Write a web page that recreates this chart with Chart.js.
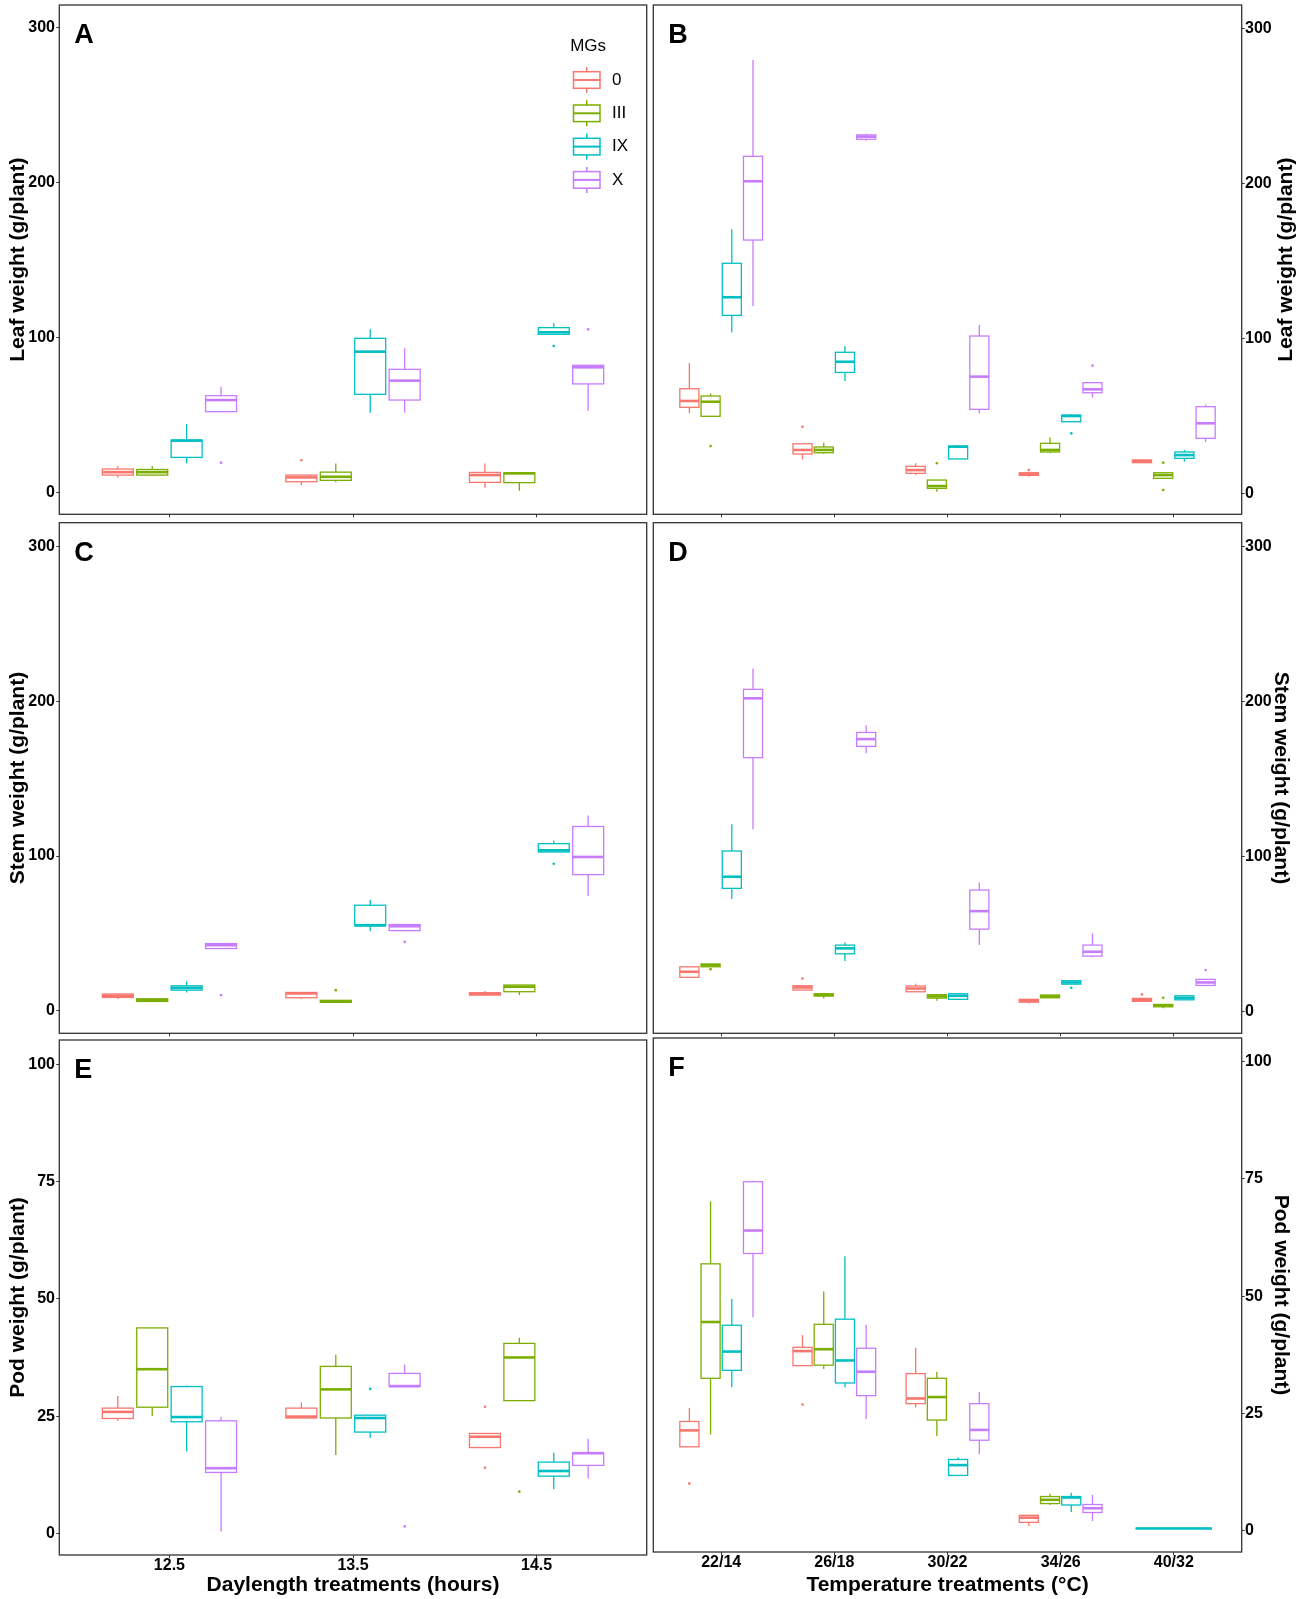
<!DOCTYPE html>
<html>
<head>
<meta charset="utf-8">
<script src="https://cdn.jsdelivr.net/npm/chart.js@4.4.1/dist/chart.umd.min.js"></script>
<style>
  body { margin: 0; background: #fff; width: 1299px; height: 1599px; position: relative; overflow: hidden; }
  canvas { position: absolute; }
</style>
</head>
<body>
<canvas id="pA"></canvas>
<canvas id="pB"></canvas>
<canvas id="pC"></canvas>
<canvas id="pD"></canvas>
<canvas id="pE"></canvas>
<canvas id="pF"></canvas>
<script>
// --- categories & ticks ---
const mgs = ['0', 'III', 'IX', 'X'];
const mgColors = ['#F8766D', '#7CAE00', '#00BFC4', '#C77CFF'];
const daylength = ['12.5', '13.5', '14.5'];
const temperature = ['22/14', '26/18', '30/22', '34/26', '40/32'];
const weightTicks = [0, 100, 200, 300];
const podTicks = [0, 25, 50, 75, 100];

// --- box stats: one row per MG, one entry per treatment: [low whisker, q1, median, q3, high whisker]
const leafDay = [
  [[9.9, 11.4, 13.3, 15.3, 17.2], [4.9, 7.1, 9.9, 11.4, 11.4], [3.2, 6.7, 11.4, 13.1, 18.9]],
  [[11, 11.4, 13.3, 15, 17.2], [6.7, 8, 10.3, 13.3, 18.9], [1.3, 6.5, 12.5, 12.9, 12.9]],
  [[18.9, 22.8, 33.6, 34, 44.3], [51.6, 63.5, 91, 99.6, 105.4], [102.2, 102.2, 103.5, 106.5, 109.3]],
  [[52.3, 52.3, 59.8, 62.6, 68.4], [51.6, 59.8, 72.3, 79.6, 93.2], [52.9, 70.2, 80.9, 82.2, 82.2]]
];
// outliers: [treatment index, MG index, value]
const leafDayOut = [[0, 3, 19.4], [1, 0, 21], [2, 2, 94.7], [2, 3, 105.4]];

const leafTemp = [
  [[51.6, 55.5, 59.6, 67.5, 83.9], [21.9, 25.4, 28, 32, 32], [11.8, 12.9, 15, 17.4, 19.4], [10.8, 11.6, 12.5, 13.3, 13.3], [19.6, 19.8, 20.9, 21.5, 21.5]],
  [[49.7, 49.7, 59.1, 62.8, 64.5], [25.4, 26.2, 28, 29.9, 32.7], [1.1, 3.2, 4.7, 8.6, 8.6], [25.8, 26.7, 28, 32.3, 36.1], [9.7, 9.7, 11.8, 13.3, 13.3]],
  [[103.7, 114.8, 126.5, 148.4, 170.3], [72.5, 78, 84.9, 91, 95], [22.2, 22.2, 30.1, 30.5, 30.5], [46.2, 46.2, 49.9, 50.5, 51], [20.4, 22.6, 24.7, 26.7, 28]],
  [[120.9, 163.4, 201.3, 217.4, 279.6], [227.5, 228.4, 230.1, 231.2, 232], [51.6, 54.2, 75.3, 101.5, 108.6], [61.9, 64.9, 67.1, 71.4, 71.4], [33.3, 35.5, 45.2, 55.9, 57.4]]
];
const leafTempOut = [[0, 1, 30.5], [1, 0, 43], [2, 1, 19.4], [3, 0, 15], [3, 2, 38.7], [3, 3, 82.4], [4, 1, 19.8], [4, 1, 2.2]];

const stemDay = [
  [[7.5, 8.6, 9.7, 10.8, 10.8], [7.5, 8.4, 11.2, 11.8, 11.8], [9.7, 10.1, 11, 11.6, 12.7]],
  [[5.6, 6, 6.9, 7.7, 7.7], [5.4, 5.4, 6, 6.7, 6.7], [10.1, 12.3, 15.5, 16.6, 16.6]],
  [[11.8, 13.3, 14.8, 16.1, 19.1], [51.4, 54.8, 55.3, 68.2, 71.8], [102.6, 102.6, 103.7, 108, 110.1]],
  [[40.2, 40.2, 42.4, 43.4, 43.4], [51.8, 51.8, 54.6, 55.7, 55.7], [74.2, 88, 99.4, 119.1, 126.2]]
];
const stemDayOut = [[0, 3, 10.1], [1, 1, 13.3], [1, 3, 44.5], [2, 2, 95]];

const stemTemp = [
  [[22.2, 22.2, 25.8, 29, 29], [14, 14, 15.7, 16.8, 16.8], [12.9, 12.9, 15, 16.6, 18.1], [5.4, 6.2, 7.1, 8, 8], [6.7, 6.7, 7.7, 8.6, 8.6]],
  [[29, 29, 30.1, 30.8, 30.8], [8.6, 10.1, 11, 11.6, 11.6], [7.1, 8.8, 9.9, 11, 11], [9, 9, 9.9, 10.8, 10.8], [2.2, 3.2, 4.1, 4.7, 4.7]],
  [[72.7, 79.6, 87.1, 103.7, 120.9], [32.7, 37.4, 40.9, 43, 44.7], [8, 8, 10.3, 11.6, 11.6], [17.8, 17.8, 18.9, 20, 20], [7.7, 7.7, 9, 10.3, 10.3]],
  [[117.8, 163.9, 202.2, 208, 221.5], [166.7, 171.2, 175.9, 180.2, 184.9], [43, 53.3, 64.9, 78.5, 83.4], [35.1, 35.9, 38.7, 43, 50.5], [17, 17, 18.9, 20.9, 20.9]]
];
const stemTempOut = [[0, 1, 27.5], [1, 0, 21.5], [3, 2, 15.5], [4, 0, 11.2], [4, 1, 9], [4, 3, 26.9]];

const podDay = [
  [[24, 24.5, 25.9, 26.7, 29.3], [24.6, 24.6, 24.9, 26.7, 27.9], [18.3, 18.3, 20.6, 21.3, 21.3]],
  [[25, 26.9, 35, 43.8, 43.8], [16.7, 24.6, 30.7, 35.6, 38.1], [28.3, 28.3, 37.5, 40.5, 41.7]],
  [[17.5, 23.8, 24.8, 31.3, 31.5], [20.4, 21.6, 24.6, 25.2, 25.2], [9.4, 12.2, 13.3, 15.2, 17.2]],
  [[0.4, 13, 13.9, 24, 24.8], [31.3, 31.3, 31.4, 34.1, 36], [11.7, 14.5, 17.1, 17.2, 20.2]]
];
const podDayOut = [[1, 2, 30.8], [1, 3, 1.5], [2, 0, 27], [2, 0, 14], [2, 1, 8.9]];

const podTemp = [
  [[17.9, 17.9, 21.4, 23.3, 26.2], [35.2, 35.2, 38.3, 39.1, 41.7], [26.3, 27.1, 28.2, 33.5, 39], [1, 1.8, 2.8, 3.3, 3.3], null],
  [[20.5, 32.5, 44.5, 56.9, 70.2], [34.5, 35.3, 38.7, 44, 51], [20.2, 23.6, 28.5, 32.5, 33.9], [5.5, 5.8, 6.6, 7.3, 7.9], null],
  [[30.6, 34.2, 38.2, 43.8, 49.4], [30.6, 31.5, 36.3, 45.1, 58.5], [11.8, 11.8, 14, 15.2, 15.6], [4, 5.5, 7.1, 7.3, 8.1], [0.5, 0.5, 0.5, 0.5, 0.5]],
  [[45.5, 59.1, 64, 74.4, 74.6], [23.8, 28.8, 33.9, 38.9, 43.9], [16.3, 19.3, 21.5, 27.1, 29.6], [2.1, 3.9, 4.8, 5.6, 7.7], null]
];
const podTempOut = [[0, 0, 10.1], [1, 0, 26.9]];

Chart.defaults.font.family = "'Liberation Sans', Arial, sans-serif";
Chart.defaults.color = '#000';

// ggplot-style dodge: the 0.75 wide slot of a treatment is split among the MGs present there
function dodge(stats, ci, gi) {
  const present = stats.map((g, i) => (g[ci] ? i : -1)).filter(i => i >= 0);
  const n = present.length;
  const slot = 0.75 / n;
  const k = present.indexOf(gi);
  return { cx: ci + 1 + (k - (n - 1) / 2) * slot, half: slot * 0.45 };
}

const boxPlugin = {
  id: 'boxes',
  beforeDatasetsDraw(chart, args, opts) {
    const { ctx } = chart;
    const x = chart.scales.x, y = chart.scales.y;
    ctx.save();
    opts.stats.forEach((rows, gi) => {
      rows.forEach((s, ci) => {
        if (!s) return;
        const d = dodge(opts.stats, ci, gi);
        const xl = x.getPixelForValue(d.cx - d.half);
        const xr = x.getPixelForValue(d.cx + d.half);
        const xc = x.getPixelForValue(d.cx);
        const [lo, q1, md, q3, hi] = s.map(v => y.getPixelForValue(v));
        ctx.strokeStyle = mgColors[gi];
        ctx.lineWidth = 1.3;
        ctx.beginPath();
        ctx.moveTo(xc, q3); ctx.lineTo(xc, hi);
        ctx.moveTo(xc, q1); ctx.lineTo(xc, lo);
        ctx.stroke();
        ctx.fillStyle = '#fff';
        ctx.fillRect(xl, q3, xr - xl, q1 - q3);
        ctx.strokeRect(xl, q3, xr - xl, q1 - q3);
        ctx.lineWidth = 2.6;
        ctx.beginPath();
        ctx.moveTo(xl, md); ctx.lineTo(xr, md);
        ctx.stroke();
      });
    });
    ctx.restore();
  }
};

const decorPlugin = {
  id: 'decor',
  afterDraw(chart, args, opts) {
    const { ctx, chartArea: a } = chart;
    ctx.save();
    // panel border
    ctx.strokeStyle = '#333';
    ctx.lineWidth = 1.3;
    ctx.strokeRect(a.left, a.top, a.right - a.left, a.bottom - a.top);
    // panel letter
    ctx.fillStyle = '#000';
    ctx.font = "bold 27px 'Liberation Sans', Arial, sans-serif";
    ctx.textAlign = 'left';
    ctx.textBaseline = 'alphabetic';
    ctx.fillText(opts.letter, a.left + 15, a.top + 37.8);
    // right-hand title reading upwards (panel B)
    if (opts.upTitle) {
      ctx.save();
      ctx.translate(chart.width - 13, (a.top + a.bottom) / 2);
      ctx.rotate(-Math.PI / 2);
      ctx.font = "bold 21px 'Liberation Sans', Arial, sans-serif";
      ctx.textAlign = 'center';
      ctx.textBaseline = 'middle';
      ctx.fillText(opts.upTitle, 0, 0);
      ctx.restore();
    }
    // MG legend
    if (opts.legend) {
      const lx = a.right - 76.5;
      ctx.font = "17px 'Liberation Sans', Arial, sans-serif";
      ctx.textBaseline = 'middle';
      ctx.fillText('MGs', lx, a.top + 41);
      mgs.forEach((m, i) => {
        const cy = a.top + 75 + 33.3 * i;
        const bl = a.right - 73.2, br = a.right - 46.7, bc = (bl + br) / 2;
        ctx.strokeStyle = mgColors[i];
        ctx.lineWidth = 1.5;
        ctx.beginPath();
        ctx.moveTo(bc, cy - 13); ctx.lineTo(bc, cy + 13);
        ctx.stroke();
        ctx.fillStyle = '#fff';
        ctx.fillRect(bl, cy - 8.3, br - bl, 16.6);
        ctx.strokeRect(bl, cy - 8.3, br - bl, 16.6);
        ctx.lineWidth = 2;
        ctx.beginPath();
        ctx.moveTo(bl, cy); ctx.lineTo(br, cy);
        ctx.stroke();
        ctx.fillStyle = '#000';
        ctx.fillText(m, a.right - 34.7, cy);
      });
    }
    ctx.restore();
  }
};

function makePanel(cfg) {
  const canvas = document.getElementById(cfg.id);
  canvas.width = cfg.w;
  canvas.height = cfg.h;
  canvas.style.left = cfg.x + 'px';
  canvas.style.top = cfg.y + 'px';
  const right = cfg.side === 'right';
  const bottomRow = !!cfg.xTitle;

  const datasets = mgs.map((m, gi) => ({
    label: m,
    data: cfg.out.filter(o => o[1] === gi).map(o => ({ x: dodge(cfg.stats, o[0], gi).cx, y: o[2] })),
    backgroundColor: mgColors[gi],
    borderWidth: 0,
    pointRadius: 1.3
  }));

  new Chart(canvas, {
    type: 'scatter',
    data: { datasets },
    plugins: [boxPlugin, decorPlugin],
    options: {
      responsive: false,
      animation: false,
      events: [],
      layout: { padding: cfg.pad, autoPadding: false },
      plugins: {
        legend: { display: false },
        tooltip: { enabled: false },
        boxes: { stats: cfg.stats },
        decor: { letter: cfg.letter, legend: !!cfg.legend, upTitle: cfg.upTitle }
      },
      scales: {
        x: {
          type: 'linear',
          min: 0.4,
          max: cfg.cats.length + 0.6,
          afterBuildTicks: s => { s.ticks = cfg.cats.map((c, i) => ({ value: i + 1 })); },
          afterFit: s => { s.height = cfg.xh; s.paddingLeft = 0; s.paddingRight = 0; },
          border: { display: false },
          grid: { drawOnChartArea: false, drawTicks: true, tickLength: 3, color: '#333', lineWidth: 1 },
          ticks: {
            display: bottomRow, autoSkip: false, maxRotation: 0, padding: 0, color: '#000',
            font: { size: 16, weight: 'bold', lineHeight: 1 },
            callback: v => cfg.cats[Math.round(v) - 1]
          },
          title: {
            display: bottomRow, text: cfg.xTitle || '', color: '#000',
            font: { size: 21, weight: 'bold', lineHeight: 1 },
            padding: { top: 0, bottom: 3 }
          }
        },
        y: {
          type: 'linear',
          position: right ? 'right' : 'left',
          min: cfg.yMin,
          max: cfg.yMax,
          afterBuildTicks: s => { s.ticks = cfg.ticks.map(v => ({ value: v })); },
          afterFit: s => { s.width = cfg.yw; s.paddingTop = 0; s.paddingBottom = 0; },
          border: { display: false },
          grid: { drawOnChartArea: false, drawTicks: true, tickLength: 3, color: '#333', lineWidth: 1 },
          ticks: { padding: right ? 0.3 : 1.3, color: '#000', font: { size: 16, weight: 'bold' } },
          title: {
            display: !cfg.upTitle, text: cfg.yTitle || '', color: '#000',
            font: { size: 21, weight: 'bold' },
            padding: { top: 5.4, bottom: 0 }
          }
        }
      }
    }
  });
}

// left column: frame x 59.3..646.7, right column: 653.3..1241.7
makePanel({ id: 'pA', x: 0, y: 0, w: 650, h: 519, pad: { left: 0, right: 3.3, top: 5, bottom: 0 }, yw: 59.3, xh: 4.7,
  side: 'left', letter: 'A', legend: true, cats: daylength, stats: leafDay, out: leafDayOut,
  yMin: -13.9, yMax: 314.6, ticks: weightTicks, yTitle: 'Leaf weight (g/plant)' });
makePanel({ id: 'pB', x: 650, y: 0, w: 649, h: 519, pad: { left: 3.3, right: 0, top: 5, bottom: 0 }, yw: 57.3, xh: 4.7,
  side: 'right', letter: 'B', cats: temperature, stats: leafTemp, out: leafTempOut,
  yMin: -13.5, yMax: 315, ticks: weightTicks, upTitle: 'Leaf weight (g/plant)' });
makePanel({ id: 'pC', x: 0, y: 519, w: 650, h: 518, pad: { left: 0, right: 3.3, top: 3.7, bottom: 0 }, yw: 59.3, xh: 3.7,
  side: 'left', letter: 'C', cats: daylength, stats: stemDay, out: stemDayOut,
  yMin: -14.6, yMax: 315.5, ticks: weightTicks, yTitle: 'Stem weight (g/plant)' });
makePanel({ id: 'pD', x: 650, y: 519, w: 649, h: 518, pad: { left: 3.3, right: 0, top: 3.7, bottom: 0 }, yw: 57.3, xh: 3.7,
  side: 'right', letter: 'D', cats: temperature, stats: stemTemp, out: stemTempOut,
  yMin: -13.9, yMax: 315.5, ticks: weightTicks, yTitle: 'Stem weight (g/plant)' });
makePanel({ id: 'pE', x: 0, y: 1037, w: 650, h: 562, pad: { left: 0, right: 3.3, top: 3, bottom: 0 }, yw: 59.3, xh: 44,
  side: 'left', letter: 'E', cats: daylength, stats: podDay, out: podDayOut,
  yMin: -4.6, yMax: 105.16, ticks: podTicks, yTitle: 'Pod weight (g/plant)', xTitle: 'Daylength treatments (hours)' });
makePanel({ id: 'pF', x: 650, y: 1037, w: 649, h: 562, pad: { left: 3.3, right: 0, top: 1, bottom: 0 }, yw: 57.3, xh: 47,
  side: 'right', letter: 'F', cats: temperature, stats: podTemp, out: podTempOut,
  yMin: -4.52, yMax: 105.03, ticks: podTicks, yTitle: 'Pod weight (g/plant)', xTitle: 'Temperature treatments (°C)' });
</script>
</body>
</html>
